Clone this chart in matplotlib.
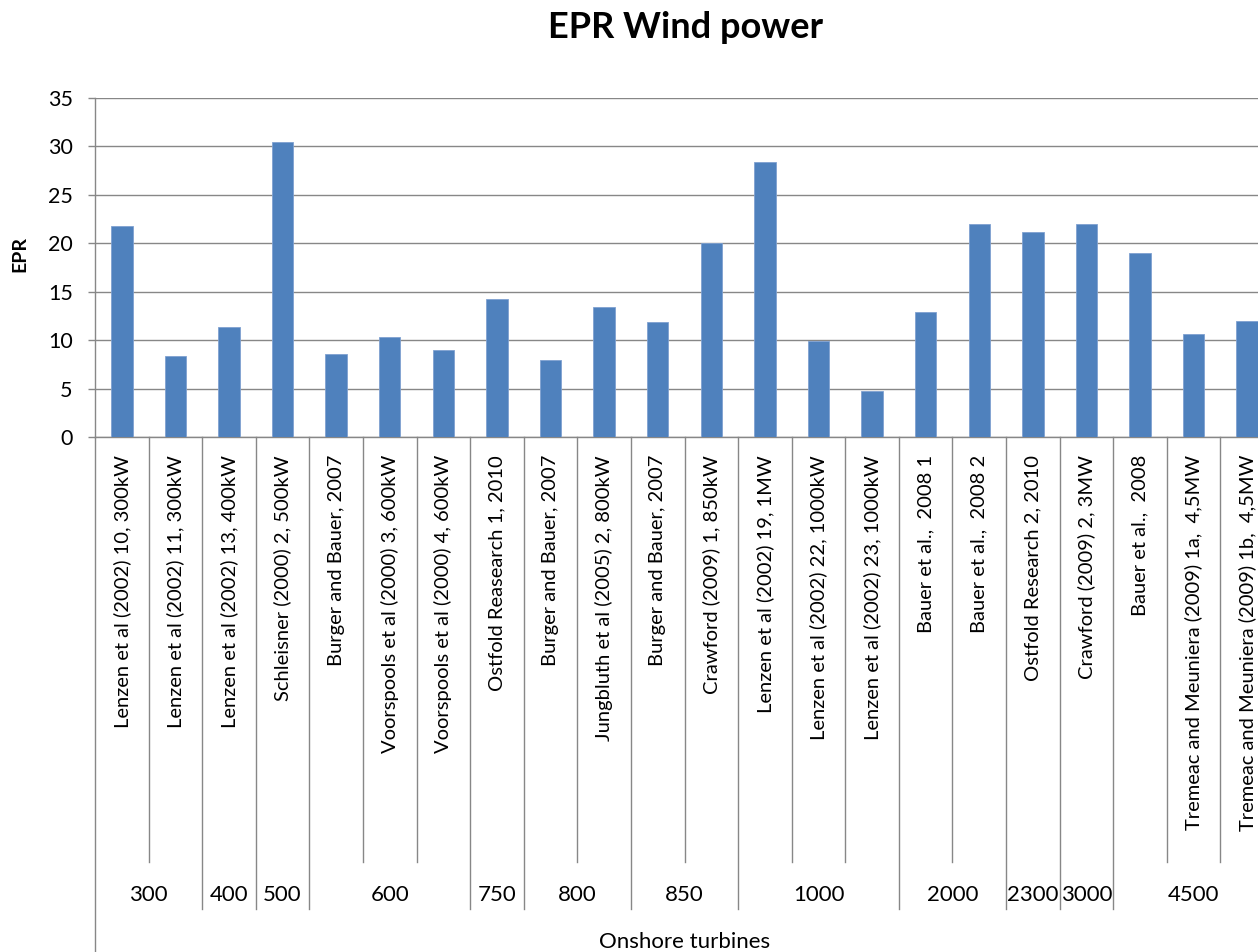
import matplotlib
matplotlib.use("Agg")
import matplotlib.pyplot as plt
from matplotlib.lines import Line2D

plt.rcParams['font.family'] = ['Lato', 'DejaVu Sans']

categories = [
    "Lenzen et al (2002) 10, 300kW",
    "Lenzen et al (2002) 11, 300kW",
    "Lenzen et al (2002) 13, 400kW",
    "Schleisner (2000) 2, 500kW",
    "Burger and Bauer, 2007",
    "Voorspools et al (2000) 3, 600kW",
    "Voorspools et al (2000) 4, 600kW",
    "Ostfold Reasearch 1, 2010",
    "Burger and Bauer, 2007",
    "Jungbluth et al (2005) 2, 800kW",
    "Burger and Bauer, 2007",
    "Crawford (2009) 1, 850kW",
    "Lenzen et al (2002) 19, 1MW",
    "Lenzen et al (2002) 22, 1000kW",
    "Lenzen et al (2002) 23, 1000kW",
    "Bauer et al.,  2008 1",
    "Bauer et al.,  2008 2",
    "Ostfold Research 2, 2010",
    "Crawford (2009) 2, 3MW",
    "Bauer et al.,  2008",
    "Tremeac and Meuniera (2009) 1a,  4,5MW",
    "Tremeac and Meuniera (2009) 1b,  4,5MW",
]
epr = [21.8, 8.4, 11.4, 30.5, 8.6, 10.3, 9.0, 14.2, 7.9, 13.4, 11.9, 20.0,
       28.4, 9.9, 4.7, 12.9, 22.0, 21.2, 22.0, 19.0, 10.6, 12.0]
group_labels = ["300", "400", "500", "600", "750", "800", "850", "1000",
                "2000", "2300", "3000", "4500"]
group_sizes = [2, 1, 1, 3, 1, 2, 2, 3, 2, 1, 1, 3]
outer_label = "Onshore turbines"
title = "EPR Wind power"
ylabel = "EPR"
yticks = [0, 5, 10, 15, 20, 25, 30, 35]

W, H = 1258, 952
fig = plt.figure(figsize=(W / 100, H / 100), dpi=100)
ax_l, ax_r, ax_t, ax_b = 95, 1274, 98, 437
ax = fig.add_axes([ax_l / W, 1 - ax_b / H, (ax_r - ax_l) / W, (ax_b - ax_t) / H])
axh = ax_b - ax_t

def fy(py):
    # pixel y (image coords) -> axes fraction
    return (ax_b - py) / axh

grey = '#878787'
n = len(categories)
x = list(range(n))
ax.bar(x, epr, width=0.4, color='#4F81BD', edgecolor='#7FA1D1', linewidth=0.6, zorder=3)
ax.set_xlim(-0.5, n - 0.5)
ax.set_ylim(0, 35)
ax.set_yticks(yticks)
ax.yaxis.grid(True, color=grey, linewidth=1.0, zorder=0)
ax.set_axisbelow(True)
for s in ['top', 'right']:
    ax.spines[s].set_visible(False)
ax.spines['left'].set_color(grey)
ax.spines['bottom'].set_color(grey)
ax.spines['left'].set_linewidth(1.0)
ax.spines['bottom'].set_linewidth(1.0)
ax.set_xticks([])
ax.tick_params(axis='y', length=5, width=1.0, color=grey, pad=11, labelsize=15.5)

tr = ax.get_xaxis_transform()
# category labels
for i, lab in enumerate(categories):
    ax.text(i, fy(455), lab, rotation=90, ha='center', va='top',
            fontsize=14.5, transform=tr, clip_on=False)

# separators
bounds = set()
acc = 0
for g in group_sizes:
    acc += g
    bounds.add(acc)
for b in range(1, n):
    yend = fy(909) if b in bounds else fy(862)
    ax.add_line(Line2D([b - 0.5, b - 0.5], [0, yend], transform=tr, color=grey,
                       linewidth=1.0, clip_on=False))
# left axis extension
ax.add_line(Line2D([-0.5, -0.5], [0, fy(960)], transform=tr, color=grey,
                   linewidth=1.0, clip_on=False))

# group labels
start = 0
for lab, g in zip(group_labels, group_sizes):
    c = start + (g - 1) / 2
    ax.text(c, fy(895), lab, ha='center', va='center', fontsize=16,
            transform=tr, clip_on=False)
    start += g

ax.text((n - 1) / 2, fy(942), outer_label, ha='center', va='center', fontsize=16,
        transform=tr, clip_on=False)

fig.text(685 / W, 1 - 28 / H, title, ha='center', va='center', fontsize=26,
         fontweight='bold')
fig.text(20 / W, 1 - 254 / H, ylabel, ha='center', va='center', rotation=90,
         fontsize=14, fontweight='bold')

fig.savefig('out.png', dpi=100)
